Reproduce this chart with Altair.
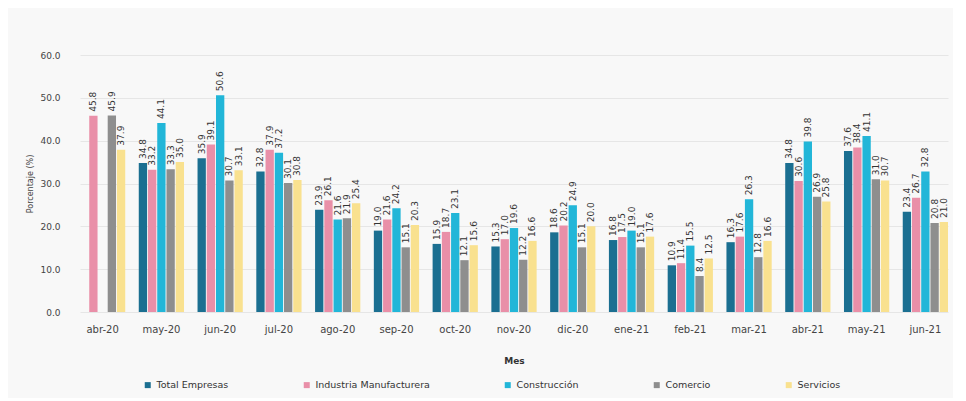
import altair as alt
import pandas as pd

months = ["abr-20", "may-20", "jun-20", "jul-20", "ago-20", "sep-20", "oct-20", "nov-20",
          "dic-20", "ene-21", "feb-21", "mar-21", "abr-21", "may-21", "jun-21"]
series = ["Total Empresas", "Industria Manufacturera", "Construcción", "Comercio", "Servicios"]
colors = ["#1b6f91", "#e98fa8", "#22b6d8", "#8e8e8e", "#f9e18f"]

total = [None, 34.8, 35.9, 32.8, 23.9, 19.0, 15.9, 15.3, 18.6, 16.8, 10.9, 16.3, 34.8, 37.6, 23.4]
industria = [45.8, 33.2, 39.1, 37.9, 26.1, 21.6, 18.7, 17.0, 20.2, 17.5, 11.4, 17.6, 30.6, 38.4, 26.7]
construccion = [None, 44.1, 50.6, 37.2, 21.6, 24.2, 23.1, 19.6, 24.9, 19.0, 15.5, 26.3, 39.8, 41.1, 32.8]
comercio = [45.9, 33.3, 30.7, 30.1, 21.9, 15.1, 12.1, 12.2, 15.1, 15.1, 8.4, 12.8, 26.9, 31.0, 20.8]
servicios = [37.9, 35.0, 33.1, 30.8, 25.4, 20.3, 15.6, 16.6, 20.0, 17.6, 12.5, 16.6, 25.8, 30.7, 21.0]

rows = []
for s, vals in zip(series, [total, industria, construccion, comercio, servicios]):
    for m, v in zip(months, vals):
        if v is not None:
            rows.append({"Mes": m, "Serie": s, "Valor": v})
df = pd.DataFrame(rows)

FONT = "DejaVu Sans"

base = alt.Chart(df).encode(
    x=alt.X("Mes:N", sort=months, title="Mes",
            scale=alt.Scale(range=[17, 885], paddingInner=0.23, paddingOuter=0),
            axis=alt.Axis(labelAngle=0, domain=False, ticks=False, labelPadding=12,
                          titlePadding=22, labelFontSize=10, titleFontSize=9,
                          labelColor="#444", titleColor="#333", titleFontWeight="bold")),
    xOffset=alt.XOffset("Serie:N", sort=series, scale=alt.Scale(paddingInner=0.1)),
)

bars = base.mark_bar().encode(
    y=alt.Y("Valor:Q", title="Porcentaje (%)",
            scale=alt.Scale(domain=[0, 60]),
            axis=alt.Axis(values=[0, 10, 20, 30, 40, 50, 60], format=".1f", domain=False,
                          ticks=False, labelFontSize=9, titleFontSize=8, labelPadding=3,
                          titlePadding=5, labelColor="#444", titleColor="#444",
                          gridColor="#e6e6e6", titleFontWeight="normal")),
    color=alt.Color("Serie:N", sort=series,
                    scale=alt.Scale(domain=series, range=colors),
                    legend=alt.Legend(title=None, orient="none", direction="horizontal",
                                      legendX=80, legendY=325,
                                      columns=5, columnPadding=73,
                                      symbolType="square", symbolSize=36,
                                      labelFontSize=9.5, labelColor="#333")),
)

labels = base.mark_text(angle=270, align="left", baseline="middle", dx=4,
                        fontSize=9, color="#333", font=FONT).encode(
    y="Valor:Q",
    text=alt.Text("Valor:Q", format=".1f"),
)

chart = (bars + labels).properties(
    width=888, height=257,
    background="#f8f8f8",
    padding={"left": 18, "top": 43, "right": 2, "bottom": 8},
).configure(font=FONT).configure_view(stroke=None)

chart.save("out.html", embed_options={"renderer": "svg", "actions": False})
